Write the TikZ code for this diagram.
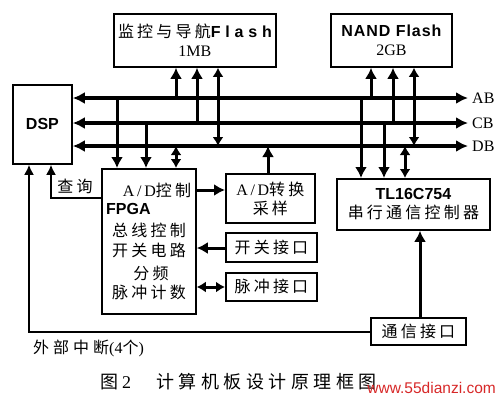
\documentclass[tikz,border=0pt]{standalone}
\usepackage{fontspec}
\setmainfont{Liberation Serif}
\newfontfamily\cjk[LetterSpace=20]{Noto Sans CJK SC}
\newfontfamily\cjkc[LetterSpace=25]{Noto Sans CJK SC}
\newfontfamily\sfb[BoldFont={Liberation Sans Bold}]{Liberation Sans}
\usetikzlibrary{arrows.meta}
\tikzset{
  box/.style={draw, line width=1.8pt, inner sep=0pt, anchor=north west},
  txt/.style={inner sep=0pt, font=\fontsize{16pt}{20pt}\selectfont, align=center},
  bus/.style={line width=3.2pt, {Latex[length=12pt,width=12pt]}-{Latex[length=12pt,width=12pt]}},
  arr/.style={line width=3pt, -{Latex[length=11pt,width=12pt]}},
  darr/.style={line width=3pt, {Latex[length=9pt,width=11pt]}-{Latex[length=9pt,width=11pt]}},
  thin/.style={line width=1.8pt, -{Latex[length=10pt,width=10pt]}},
}
\begin{document}
\begin{tikzpicture}[x=1pt,y=-1pt]
\useasboundingbox (0,0) rectangle (500,400);
% boxes
\node[box, minimum width=59pt, minimum height=79pt] (dsp) at (12,84) {};
\node[txt, font=\fontsize{16pt}{18pt}\sfb\bfseries] (dsplbl) at (dsp.center) {DSP};
\node[box, minimum width=162pt, minimum height=53pt] (fl1) at (113,13) {};
\node[txt] (fl1lbl) at (fl1.center) {{\cjk 监控与导航}{\sfb\bfseries\addfontfeature{LetterSpace=30}Flash}\\[-1pt] 1MB};
\node[box, minimum width=121pt, minimum height=53pt] (nand) at (330,13) {};
\node[txt] (nandlbl) at (nand.center) {{\sfb\bfseries\addfontfeature{LetterSpace=6}NAND Flash}\\[-1pt] 2GB};
\node[box, minimum width=94pt, minimum height=145pt] (fpga) at (101,168) {};
\node[box, minimum width=89pt, minimum height=49pt] (adc) at (225,173) {};
\node[txt] (adclbl) at (adc.center) {A\,/\,D{\cjk 转换}\\[-1pt]{\cjk 采样}};
\node[box, minimum width=91pt, minimum height=29pt] (sw) at (225,232) {};
\node[txt] (swlbl) at (sw.center) {\cjk 开关接口};
\node[box, minimum width=91pt, minimum height=28pt] (pul) at (225,272) {};
\node[txt] (pullbl) at (pul.center) {\cjk 脉冲接口};
\node[box, minimum width=153pt, minimum height=51pt] (tl) at (336,178) {};
\node[txt] (tllbl) at (tl.center) {{\sfb\bfseries TL16C754}\\[-1pt]{\cjk 串行通信控制器}};
\node[box, minimum width=95pt, minimum height=27pt] (com) at (370,317) {};
\node[txt] (comlbl) at (com.center) {\cjk 通信接口};
% FPGA texts
\node[txt] (f1) at (157,190) {A\,/\,D{\cjk 控制}};
\node[txt, anchor=west, font=\fontsize{16pt}{18pt}\sfb\bfseries] (f2) at (106,209) {FPGA};
\node[txt] (f3) at (149,230) {\cjk 总线控制};
\node[txt] (f4) at (149,250) {\cjk 开关电路};
\node[txt] (f5) at (151,273) {\cjk 分频};
\node[txt] (f6) at (149,292) {\cjk 脉冲计数};
% buses
\coordinate (abE) at (468,98);
\coordinate (cbE) at (468,123);
\coordinate (dbE) at (468,146);
\draw[bus] (dsp.east |- abE) -- (abE);
\draw[bus] (dsp.east |- cbE) -- (cbE);
\draw[bus] (dsp.east |- dbE) -- (dbE);
\node[txt, anchor=west] (ab) at (472,98) {AB};
\node[txt, anchor=west] (cb) at (472,123) {CB};
\node[txt, anchor=west] (db) at (472,146) {DB};
% x positions
\coordinate (xa) at (117,0);
\coordinate (xb) at (146,0);
\coordinate (xc) at (176,0);
\coordinate (xd) at (197,0);
\coordinate (xe) at (218,0);
\coordinate (xf) at (268,0);
\coordinate (xg) at (361,0);
\coordinate (xh) at (371,0);
\coordinate (xi) at (384,0);
\coordinate (xj) at (393,0);
\coordinate (xk) at (405,0);
\coordinate (xl) at (414,0);
\coordinate (xm) at (420,0);
% flash 1
\draw[arr] (xc |- abE) -- (xc |- fl1.south);
\draw[arr] (xd |- cbE) -- (xd |- fl1.south);
\draw[darr] (xe |- fl1.south) -- (xe |- dbE);
% nand
\draw[arr] (xh |- abE) -- (xh |- nand.south);
\draw[arr] (xj |- cbE) -- (xj |- nand.south);
\draw[darr] (xl |- nand.south) -- (xl |- dbE);
% fpga
\draw[arr] (xa |- abE) -- (xa |- fpga.north);
\draw[arr] (xb |- cbE) -- (xb |- fpga.north);
\draw[darr] (xc |- dbE) -- (xc |- fpga.north);
% tl
\draw[arr] (xg |- abE) -- (xg |- tl.north);
\draw[arr] (xi |- cbE) -- (xi |- tl.north);
\draw[darr] (xk |- dbE) -- (xk |- tl.north);
% adc
\draw[arr] (xf |- adc.north) -- (xf |- dbE);
% side connections
\coordinate (yad) at (0,190);
\coordinate (ysw) at (0,248);
\coordinate (ypu) at (0,287);
\draw[arr] (fpga.east |- yad) -- (adc.west |- yad);
\draw[arr] (sw.west |- ysw) -- (fpga.east |- ysw);
\draw[darr] (fpga.east |- ypu) -- (pul.west |- ypu);
\draw[arr] (xm |- com.north) -- (xm |- tl.south);
% interrupt and query
\coordinate (ci) at (29,332);
\coordinate (cq) at (51,198);
\draw[thin] (com.west |- ci) -- (ci) -- (ci |- dsp.south);
\draw[thin] (fpga.west |- cq) -- (cq) -- (cq |- dsp.south);
\node[txt] (query) at (75,186) {\cjk 查询};
\node[txt, anchor=west] (intr) at (33,348) {{\cjkc 外部中断}(4{\cjk 个})};
% caption
\node[inner sep=0pt, anchor=west, font=\fontsize{18pt}{20pt}\selectfont] (cap) at (100,382) {{\cjkc 图}\hspace{4pt}2\hspace{25pt}{\cjkc 计算机板设计原理框图}};
\node[inner sep=0pt, anchor=east, text={rgb,255:red,215;green,40;blue,40}, font=\fontsize{15.5pt}{17pt}\sfb] (wm) at (496,388) {www.55dianzi.com};
\end{tikzpicture}
\end{document}
